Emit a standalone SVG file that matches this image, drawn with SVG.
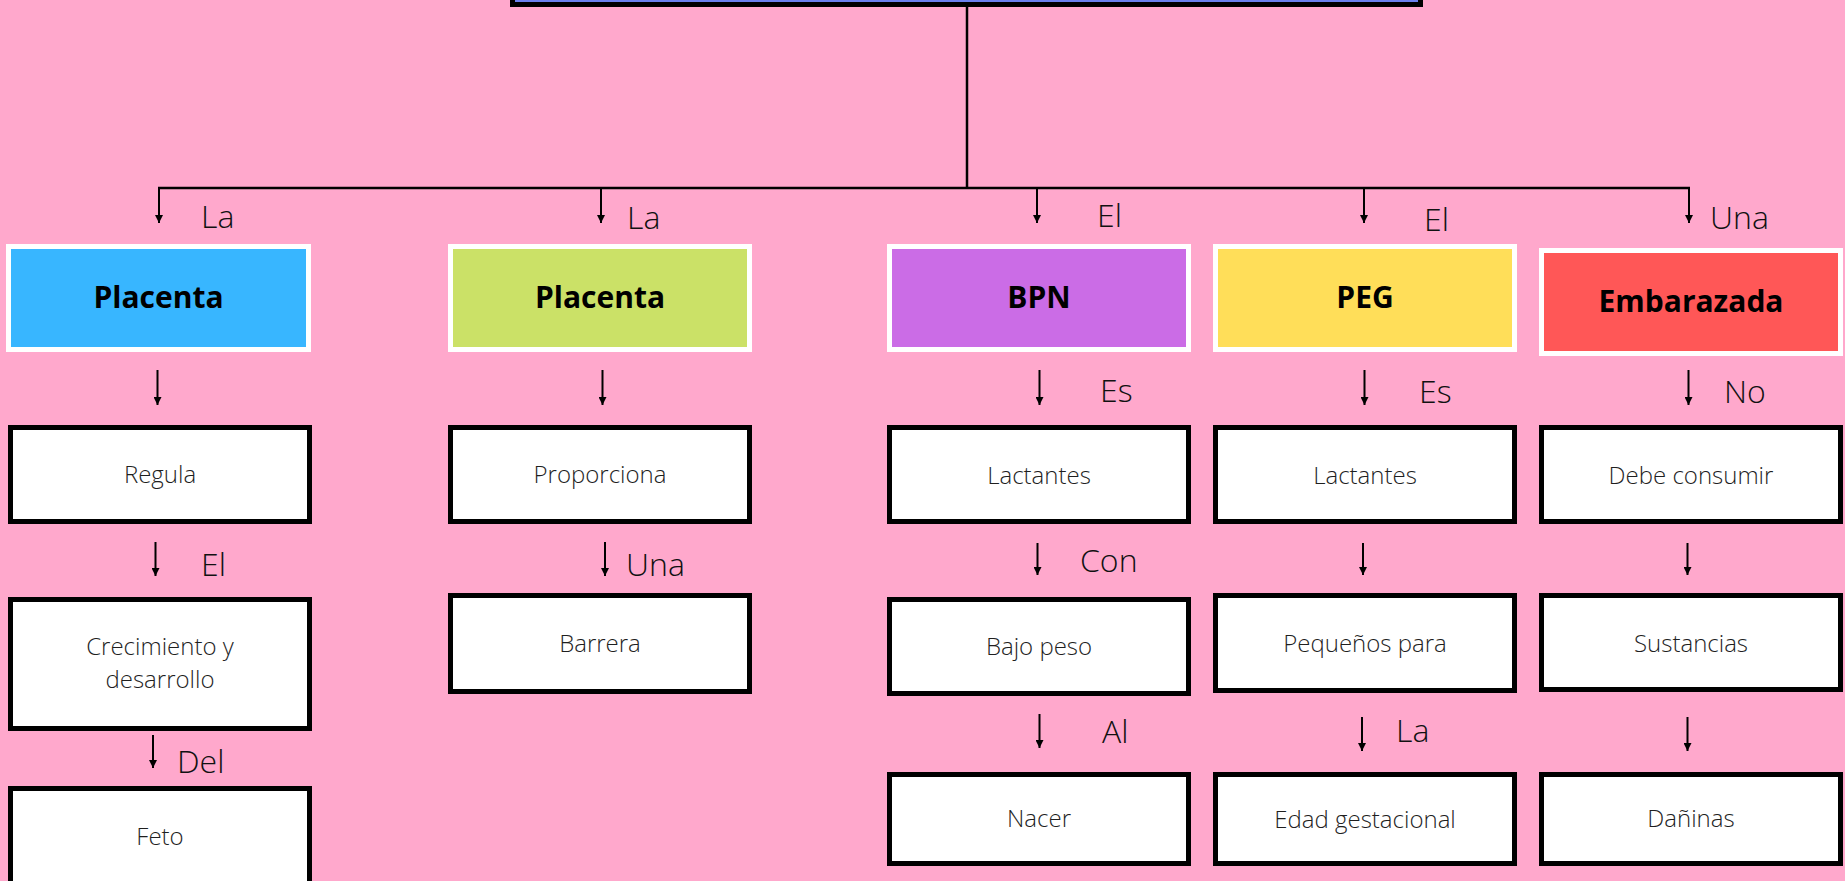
<svg xmlns="http://www.w3.org/2000/svg" width="1845" height="881" viewBox="0 0 1845 881">
<defs>
<marker id="ah" viewBox="0 0 10 10" refX="10" refY="5" markerWidth="8" markerHeight="8" markerUnits="userSpaceOnUse" orient="auto">
<path d="M0,0 L10,5 L0,10 Z" fill="#000"/>
</marker>
<style>
.bg{fill:#FFA8CC}
.head{stroke:#FFFFFF;stroke-width:5}
.box{fill:#FFFFFF;stroke:#000;stroke-width:5}
.ht{font-family:"Open Sans","Noto Sans",sans-serif;font-weight:700;font-size:30px;fill:#000;text-anchor:middle}
.bt{font-family:"Open Sans","Noto Sans",sans-serif;font-weight:300;font-size:24px;fill:#1f1f1f;text-anchor:middle}
.lb{font-family:"Open Sans","Noto Sans",sans-serif;font-weight:300;font-size:32px;fill:#111}
.ar{stroke:#000;stroke-width:2;fill:none;marker-end:url(#ah)}
.ln{stroke:#000;stroke-width:2.5;fill:none}
</style>
</defs>
<rect class="bg" x="0" y="0" width="1845" height="881"/>

<g id="top">
<rect x="512.5" y="-50" width="908" height="54.5" fill="#6A80EE" stroke="#000" stroke-width="5"/>
</g>

<g id="connectors">
<path class="ln" d="M967,7 V188 M158,188 H1690"/>
<line class="ar" x1="159" y1="188" x2="159" y2="223"/>
<line class="ar" x1="601" y1="188" x2="601" y2="223"/>
<line class="ar" x1="1037" y1="188" x2="1037" y2="223"/>
<line class="ar" x1="1364" y1="188" x2="1364" y2="223"/>
<line class="ar" x1="1689" y1="188" x2="1689" y2="223"/>

<line class="ar" x1="157.5" y1="370" x2="157.5" y2="405"/>
<line class="ar" x1="602.5" y1="370" x2="602.5" y2="405"/>
<line class="ar" x1="1039.5" y1="370" x2="1039.5" y2="405"/>
<line class="ar" x1="1364.5" y1="370" x2="1364.5" y2="405"/>
<line class="ar" x1="1688.5" y1="370" x2="1688.5" y2="405"/>

<line class="ar" x1="155.5" y1="542" x2="155.5" y2="576"/>
<line class="ar" x1="605" y1="542" x2="605" y2="576"/>
<line class="ar" x1="1037.5" y1="543" x2="1037.5" y2="575"/>
<line class="ar" x1="1363" y1="543" x2="1363" y2="575"/>
<line class="ar" x1="1687.5" y1="543" x2="1687.5" y2="575"/>

<line class="ar" x1="153" y1="735" x2="153" y2="768"/>
<line class="ar" x1="1039.5" y1="714" x2="1039.5" y2="748"/>
<line class="ar" x1="1362" y1="717" x2="1362" y2="751"/>
<line class="ar" x1="1687.5" y1="717" x2="1687.5" y2="751"/>
</g>

<g id="labels">
<text class="lb" x="201" y="228">La</text>
<text class="lb" x="627" y="229">La</text>
<text class="lb" x="1097" y="227">El</text>
<text class="lb" x="1424" y="231">El</text>
<text class="lb" x="1710" y="229">Una</text>
<text class="lb" x="1100" y="402">Es</text>
<text class="lb" x="1419" y="403">Es</text>
<text class="lb" x="1724" y="403">No</text>
<text class="lb" x="201" y="576">El</text>
<text class="lb" x="626" y="576">Una</text>
<text class="lb" x="1080" y="572">Con</text>
<text class="lb" x="177" y="773">Del</text>
<text class="lb" x="1102" y="743">Al</text>
<text class="lb" x="1396" y="742">La</text>
</g>

<g id="n-placenta1">
<rect class="head" x="8.5" y="246.5" width="300" height="103" fill="#38B6FF"/>
<text class="ht" x="158.5" y="308">Placenta</text>
</g>
<g id="n-placenta2">
<rect class="head" x="450.5" y="246.5" width="299" height="103" fill="#CBE167"/>
<text class="ht" x="600" y="308">Placenta</text>
</g>
<g id="n-bpn">
<rect class="head" x="889.5" y="246.5" width="299" height="103" fill="#CB6CE6"/>
<text class="ht" x="1039" y="308">BPN</text>
</g>
<g id="n-peg">
<rect class="head" x="1215.5" y="246.5" width="299" height="103" fill="#FFDE59"/>
<text class="ht" x="1365" y="308">PEG</text>
</g>
<g id="n-embarazada">
<rect class="head" x="1541.5" y="250.5" width="299" height="103" fill="#FF5757"/>
<text class="ht" x="1691" y="312">Embarazada</text>
</g>

<g id="n-regula">
<rect class="box" x="10.5" y="427.5" width="299" height="94"/>
<text class="bt" x="160" y="483">Regula</text>
</g>
<g id="n-proporciona">
<rect class="box" x="450.5" y="427.5" width="299" height="94"/>
<text class="bt" x="600" y="483">Proporciona</text>
</g>
<g id="n-lactantes1">
<rect class="box" x="889.5" y="427.5" width="299" height="94"/>
<text class="bt" x="1039" y="484">Lactantes</text>
</g>
<g id="n-lactantes2">
<rect class="box" x="1215.5" y="427.5" width="299" height="94"/>
<text class="bt" x="1365" y="484">Lactantes</text>
</g>
<g id="n-debe">
<rect class="box" x="1541.5" y="427.5" width="299" height="94"/>
<text class="bt" x="1691" y="484">Debe consumir</text>
</g>

<g id="n-crecimiento">
<rect class="box" x="10.5" y="599.5" width="299" height="129"/>
<text class="bt" x="160" y="655">Crecimiento y</text>
<text class="bt" x="160" y="688">desarrollo</text>
</g>
<g id="n-barrera">
<rect class="box" x="450.5" y="595.5" width="299" height="96"/>
<text class="bt" x="600" y="652">Barrera</text>
</g>
<g id="n-bajopeso">
<rect class="box" x="889.5" y="599.5" width="299" height="94"/>
<text class="bt" x="1039" y="655">Bajo peso</text>
</g>
<g id="n-pequenos">
<rect class="box" x="1215.5" y="595.5" width="299" height="95"/>
<text class="bt" x="1365" y="652">Pequeños para</text>
</g>
<g id="n-sustancias">
<rect class="box" x="1541.5" y="595.5" width="299" height="94"/>
<text class="bt" x="1691" y="652">Sustancias</text>
</g>

<g id="n-feto">
<rect class="box" x="10.5" y="788.5" width="299" height="120"/>
<text class="bt" x="160" y="845">Feto</text>
</g>
<g id="n-nacer">
<rect class="box" x="889.5" y="774.5" width="299" height="89"/>
<text class="bt" x="1039" y="827">Nacer</text>
</g>
<g id="n-edad">
<rect class="box" x="1215.5" y="774.5" width="299" height="89"/>
<text class="bt" x="1365" y="828">Edad gestacional</text>
</g>
<g id="n-daninas">
<rect class="box" x="1541.5" y="774.5" width="299" height="89"/>
<text class="bt" x="1691" y="827">Dañinas</text>
</g>
</svg>
